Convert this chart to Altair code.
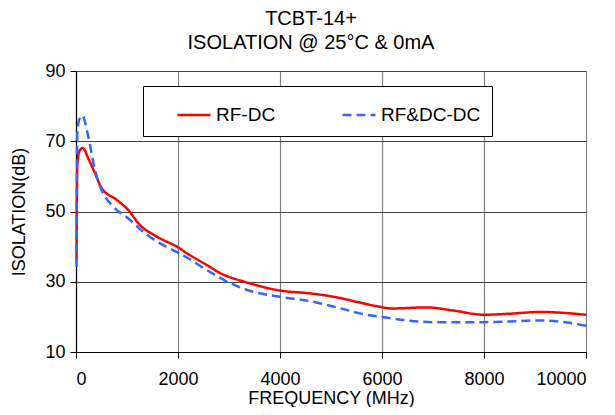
import altair as alt
import pandas as pd

# RF-DC series (MHz, dB)
freq_rf = [10, 25, 60, 130, 250, 370, 500, 800, 1020, 1250, 1580, 2000, 2230, 2490,
           2880, 3330, 4000, 4580, 5100, 5500, 5880, 6200, 6880, 7400, 8000, 8500, 9100, 10000]
iso_rf = [36.0, 62.9, 67.0, 68.1, 64.8, 61.0, 56.7, 53.3, 50.5, 46.2, 42.9, 39.8, 37.6, 35.4,
          32.1, 29.9, 27.5, 26.7, 25.6, 24.3, 23.1, 22.4, 22.7, 21.8, 20.6, 20.9, 21.4, 20.6]

# RF&DC-DC series (MHz, dB)
freq_dc = [10, 25, 60, 124, 240, 370, 500, 730, 1020, 1350, 1640, 2000, 2200, 2490,
           2880, 3330, 4000, 4580, 5000, 5300, 5560, 6030, 6490, 7000, 8000, 8500, 9100, 10000]
iso_dc = [34.3, 72.0, 76.0, 77.3, 71.4, 61.9, 56.2, 51.4, 48.1, 43.8, 41.0, 38.3, 36.7, 34.0,
          30.7, 27.8, 25.7, 24.5, 23.1, 22.0, 21.0, 19.9, 19.0, 18.5, 18.5, 18.7, 19.0, 17.5]

series_names = ["RF-DC", "RF&DC-DC"]
x_ticks = [0, 2000, 4000, 6000, 8000, 10000]
y_ticks = [10, 30, 50, 70, 90]

df = pd.concat([
    pd.DataFrame({"freq": freq_rf, "iso": iso_rf, "series": series_names[0]}),
    pd.DataFrame({"freq": freq_dc, "iso": iso_dc, "series": series_names[1]}),
])

FONT = "Liberation Sans"

chart = alt.Chart(df).mark_line(strokeWidth=2.5, interpolate="monotone").encode(
    x=alt.X("freq:Q",
            scale=alt.Scale(domain=[0, 10000], nice=False),
            axis=alt.Axis(values=x_ticks, format="d", title="FREQUENCY (MHz)",
                          gridColor="#808080", labelPadding=12, titlePadding=1)),
    y=alt.Y("iso:Q",
            scale=alt.Scale(domain=[10, 90], nice=False),
            axis=alt.Axis(values=y_ticks, format="d", title="ISOLATION(dB)",
                          gridColor="#404040", labelPadding=5, titlePadding=16)),
    color=alt.Color("series:N",
                    scale=alt.Scale(domain=series_names, range=["#FF0000", "#3366FF"]),
                    legend=alt.Legend(title=None)),
    strokeDash=alt.StrokeDash("series:N",
                              scale=alt.Scale(domain=series_names, range=[[1, 0], [9, 5]]),
                              legend=alt.Legend(title=None)),
).properties(
    width=510,
    height=281,
    autosize=alt.AutoSizeParams(type="none"),
    padding={"left": 68, "top": 63, "right": 21, "bottom": 55},
    title=alt.TitleParams(
        text=["TCBT-14+", "ISOLATION @ 25°C & 0mA"],
        font=FONT, fontSize=20, fontWeight="normal", color="black",
        anchor="middle", dx=-20, lineHeight=24, offset=9,
    ),
).configure_view(
    stroke=None
).configure_axis(
    domainColor="black",
    domainWidth=1.2,
    tickColor="black",
    tickSize=6,
    gridWidth=1.2,
    labelFont=FONT,
    labelFontSize=18,
    labelColor="black",
    titleFont=FONT,
    titleFontSize=18,
    titleFontWeight="normal",
    titleColor="black",
).configure_legend(
    orient="none",
    legendX=67,
    legendY=15,
    direction="horizontal",
    labelFont=FONT,
    labelFontSize=19,
    labelColor="black",
    labelLimit=300,
    labelOffset=4,
    symbolType="stroke",
    symbolSize=1089,
    symbolStrokeWidth=2.5,
    symbolOffset=22,
    columnPadding=43,
    padding=11,
    strokeColor="black",
    fillColor="white",
)

chart.save("out.html", embed_options={"renderer": "svg", "actions": False})
